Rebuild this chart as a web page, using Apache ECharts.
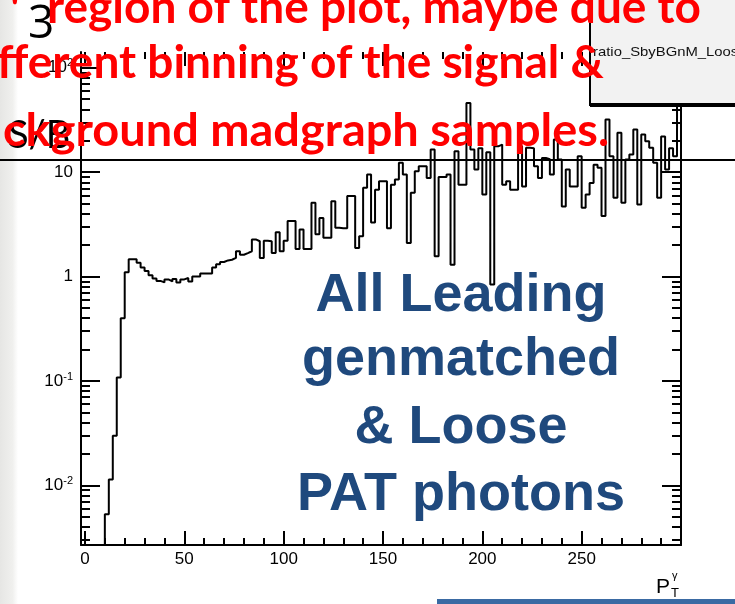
<!DOCTYPE html>
<html><head><meta charset="utf-8">
<script src="https://cdn.jsdelivr.net/npm/echarts@6/dist/echarts.min.js"></script>
<style>html,body{margin:0;padding:0;background:#fff}#c{width:735px;height:604px}</style>
</head><body><div id="c"></div>
<script>
// ---- data ----
const binStart = 10;     // first filled bin low edge (GeV)
const binWidth = 2;      // bin width (GeV)
const ratioValues = [
  0.0053, 0.0114, 0.030, 0.108, 0.40, 1.1, 1.47, 1.47, 1.36, 1.22,
  1.13, 1.03, 0.96, 0.91, 0.88, 0.94, 0.90, 0.95, 0.88, 0.94,
  0.97, 0.90, 1.0, 1.0, 1.07, 1.07, 1.07, 1.22, 1.31, 1.38,
  1.43, 1.45, 1.51, 1.75, 1.62, 1.68, 1.75, 2.27, 2.18, 1.51,
  2.2, 2.18, 1.68, 2.66, 1.75, 2.2, 3.4, 3.4, 1.84, 2.82,
  1.84, 1.84, 5.1, 2.54, 3.65, 2.35, 2.35, 5.28, 2.94, 2.9,
  2.9, 5.9, 5.9, 1.88, 2.44, 7.1, 9.5, 3.3, 6.8, 8.2,
  8.2, 2.9, 7.6, 8.5, 12.3, 9.5, 2.1, 6.35, 10.2, 11.4,
  11.4, 8.8, 16.5, 1.57, 9.0, 9.0, 9.5, 1.3, 15.9, 7.6,
  7.6, 46, 16.5, 10.6, 17, 6.1, 15.5, 0.84, 17.7, 18.4,
  7.6, 8.2, 6.8, 6.8, 17.7, 7.3, 17.1, 17, 11.4, 8.8,
  13.7, 13.3, 9.5, 20.6, 13.2, 4.7, 10.6, 7.3, 7.3, 14.2,
  4.56, 6.1, 7.9, 11.8, 11, 3.8, 32, 14.2, 5.7, 23.8,
  5.1, 13.2, 14.8, 25.6, 4.9, 23, 19.8, 17.1, 12.3, 5.7,
  22, 10.6, 17, 14.2, 80
];
const xRange = [-2, 300];
const yRange = [0.00269, 141.6];
const xMajorTicks = [0, 50, 100, 150, 200, 250];
const xMinorTicks = [10, 20, 30, 40, 60, 70, 80, 90, 110, 120, 130, 140, 160, 170, 180, 190, 210, 220, 230, 240, 260, 270, 280, 290];
const yMajorTicks = [0.01, 0.1, 1, 10, 100];
const yMinorTicks = [0.003, 0.004, 0.005, 0.006, 0.007, 0.008, 0.009,
  0.02, 0.03, 0.04, 0.05, 0.06, 0.07, 0.08, 0.09,
  0.2, 0.3, 0.4, 0.5, 0.6, 0.7, 0.8, 0.9,
  2, 3, 4, 5, 6, 7, 8, 9,
  20, 30, 40, 50, 60, 70, 80, 90];
const yTickLabels = { '-2': ['10', '-2'], '-1': ['10', '-1'], '0': ['1', ''], '1': ['10', ''], '2': ['10', '2'] };
const statsTitle = 'ratio_SbyBGnM_Loose';
const xTitle = ['P', 'T', 'γ'];
const slideNumber = '3';
const yTitle = 'S/B';
const noteLines = ['region of the plot, maybe due to', 'fferent binning of the signal &', 'ckground madgraph samples.'];
const boxLines = ['All Leading', 'genmatched', '& Loose', 'PAT photons'];

// ---- build ----
const histPts = [[binStart, 1e-5]];
ratioValues.forEach((v, i) => histPts.push([binStart + i * binWidth, v]));
histPts.push([binStart + ratioValues.length * binWidth, ratioValues[ratioValues.length - 1]]);

const black = '#000';
const lineSt = { color: black, width: 2 };
function xAx(pos, ticks, len, labels) {
  return {
    type: 'value', min: xRange[0], max: xRange[1], position: pos,
    axisLine: { show: labels, onZero: false, lineStyle: lineSt },
    axisTick: { show: true, inside: true, length: len, customValues: ticks, lineStyle: lineSt },
    axisLabel: labels ? { show: true, customValues: ticks, margin: 6, fontSize: 17, color: black, fontFamily: 'Liberation Sans' } : { show: false },
    splitLine: { show: false }
  };
}
function yAx(pos, ticks, len, labels) {
  return {
    type: 'log', logBase: 10, min: yRange[0], max: yRange[1], position: pos,
    axisLine: { show: len > 10, onZero: false, lineStyle: lineSt },
    axisTick: { show: true, inside: true, length: len, customValues: ticks, lineStyle: lineSt },
    axisLabel: labels ? {
      show: true, customValues: ticks, margin: 8, color: black,
      formatter: v => {
        const e = String(Math.round(Math.log10(v)));
        const p = yTickLabels[e];
        return p[1] ? '{b|' + p[0] + '}{s|' + p[1] + '}' : '{b|' + p[0] + '}';
      },
      rich: {
        b: { fontSize: 17, fontFamily: 'Liberation Sans', color: black, lineHeight: 20 },
        s: { fontSize: 11, fontFamily: 'Liberation Sans', color: black, verticalAlign: 'top', lineHeight: 12, padding: [0, 0, 8, 0] }
      }
    } : { show: false },
    splitLine: { show: false }
  };
}

const redFont = 'bold 46px Lato';
const graphics = [
  { type: 'rect', z: 0, shape: { x: 0, y: 0, width: 18, height: 604 },
    style: { fill: new echarts.graphic.LinearGradient(0, 0, 1, 0, [{ offset: 0, color: '#e6e6e4' }, { offset: 0.7, color: '#f0f0ee' }, { offset: 1, color: '#ffffff' }]) } },
  // stats box
  { type: 'rect', z: 50, shape: { x: 590, y: -5, width: 160, height: 110 }, style: { fill: '#f2f2f2', stroke: black, lineWidth: 2 } },
  { type: 'rect', z: 51, shape: { x: 590, y: 103, width: 160, height: 4 }, style: { fill: black } },
  { type: 'text', z: 52, x: 593, y: 52, scaleX: 1.1, style: { text: statsTitle, font: '13.5px "Liberation Sans"', fill: '#111', verticalAlign: 'middle' } },
  // axis title
  { type: 'text', z: 52, x: 656, y: 587, style: { text: xTitle[0], font: '21px "Liberation Sans"', fill: black, verticalAlign: 'middle' } },
  { type: 'text', z: 52, x: 671, y: 593, style: { text: xTitle[1], font: '13px "Liberation Sans"', fill: black, verticalAlign: 'middle' } },
  { type: 'text', z: 52, x: 672, y: 576, style: { text: xTitle[2], font: '11px "Liberation Sans"', fill: black, verticalAlign: 'middle' } },
  // slide line
  { type: 'line', z: 60, shape: { x1: 0, y1: 160, x2: 735, y2: 160 }, style: { stroke: black, lineWidth: 2 } },
  // slide texts
  { type: 'text', z: 61, x: 28, y: 25, style: { text: slideNumber, font: '46px "Open Sans"', fill: black, verticalAlign: 'middle' } },
  { type: 'text', z: 61, x: 8, y: 136, style: { text: yTitle, font: '38px Lato', fill: black, verticalAlign: 'middle' } },
  { type: 'text', z: 70, x: 10, y: 10, style: { text: "'", font: redFont, fill: '#ff0000', verticalAlign: 'middle' } },
  { type: 'text', z: 70, x: 47, y: 8, style: { text: noteLines[0], font: redFont, fill: '#ff0000', verticalAlign: 'middle' } },
  { type: 'text', z: 70, x: -3, y: 63, style: { text: noteLines[1], font: redFont, fill: '#ff0000', verticalAlign: 'middle' } },
  { type: 'text', z: 70, x: 3, y: 131, scaleX: 1.02, style: { text: noteLines[2], font: redFont, fill: '#ff0000', verticalAlign: 'middle' } },
  { type: 'rect', z: 40, shape: { x: 437, y: 599, width: 298, height: 5 }, style: { fill: '#3a6aa3' } }
];
boxLines.forEach((t, i) => graphics.push({
  type: 'text', z: 45, x: 461, y: [296, 360, 428, 495][i],
  style: { text: t, font: 'bold 54px "Liberation Sans"', fill: '#1f497d', align: 'center', verticalAlign: 'middle' }
}));

const chart = echarts.init(document.getElementById('c'), null, { renderer: 'canvas' });
chart.setOption({
  backgroundColor: '#ffffff',
  animation: false,
  grid: { left: 81, right: 54, top: 52, bottom: 59, containLabel: false },
  xAxis: [xAx('bottom', xMajorTicks, 14, true), xAx('bottom', xMinorTicks, 7, false), xAx('top', xMajorTicks, 14, false), xAx('top', xMinorTicks, 7, false)],
  yAxis: [yAx('left', yMajorTicks, 19, true), yAx('left', yMinorTicks, 9, false), yAx('right', yMajorTicks, 19, false), yAx('right', yMinorTicks, 9, false)],
  series: [{
    type: 'line', xAxisIndex: 0, yAxisIndex: 0, step: 'end', data: histPts,
    showSymbol: false, symbol: 'none', clip: true,
    lineStyle: { color: black, width: 2 }, z: 3
  }],
  graphic: graphics
});
</script></body></html>
